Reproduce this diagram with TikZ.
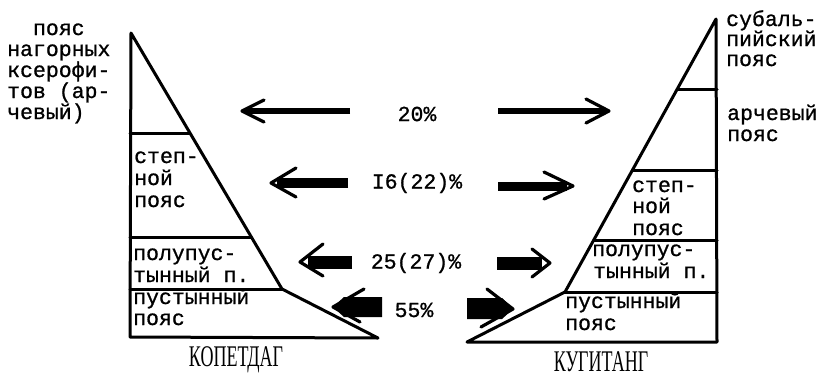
\documentclass[tikz,border=0pt]{standalone}
\usepackage{fontspec}
\usetikzlibrary{calc}
\newfontfamily\tw[FakeBold=0.9]{Liberation Mono}
\newfontfamily\ser{Liberation Serif}
\begin{document}
\begin{tikzpicture}[x=1pt,y=-1pt,
  outline/.style={line width=3pt, line join=round, line cap=round},
  barb/.style={line width=3.2pt, line join=round, line cap=round},
  lbl/.style={inner sep=0pt, anchor=base west, font=\tw\fontsize{21.5}{21}\selectfont},
  pct/.style={inner sep=0pt, anchor=center, font=\tw\fontsize{21.5}{21}\selectfont},
  title/.style={inner sep=0pt, anchor=center, font=\ser\fontsize{30}{30}\selectfont}]
\useasboundingbox (0,0) rectangle (825,378);
% ---- left figure (Kopetdag)
\coordinate (LA) at (131,33);
\coordinate (LK) at (282,289);
\coordinate (LB) at (378,338);
\coordinate (LO) at (130,337);
\draw[outline] (LA) -- (LK) -- (LB) -- (LO) -- cycle;
\draw[outline] (130,133) -- (190,133);
\draw[outline] (130,237) -- (251,237);
\draw[outline] (130,289) -- (LK);
% ---- right figure (Kugitang)
\coordinate (RA) at (716,19);
\coordinate (RK) at (565,292);
\coordinate (RB) at (467,342);
\coordinate (RO) at (717,342);
\draw[outline] (RA) -- (RK) -- (RB) -- (RO) -- cycle;
\draw[outline] (678,89) -- (717,89);
\draw[outline] (633,170) -- (717,170);
\draw[outline] (594,240) -- (717,240);
\draw[outline] (RK) -- (717,292);
% ---- left labels
\node[lbl] (l1) at (7,35) {\ \ пояс};
\node[lbl] (l2) at (7,56) {нагорных};
\node[lbl] (l3) at (7,77) {ксерофи-};
\node[lbl] (l4) at (7,98) {тов (ар-};
\node[lbl] (l5) at (7,119) {чевый)};
\node[lbl] (s1) at (134,163) {степ-};
\node[lbl] (s2) at (134,185) {ной};
\node[lbl] (s3) at (134,207) {пояс};
\node[lbl] (p1) at (133,260) {полупус-};
\node[lbl] (p2) at (133,282) {тынный п.};
\node[lbl] (d1) at (133,304) {пустынный};
\node[lbl] (d2) at (133,325) {пояс};
% ---- right labels
\node[lbl] (r1) at (726,26) {субаль-};
\node[lbl] (r2) at (726,46) {пийский};
\node[lbl] (r3) at (726,66) {пояс};
\node[lbl] (r4) at (727,120) {арчевый};
\node[lbl] (r5) at (727,141) {пояс};
\node[lbl] (rs1) at (632,192) {степ-};
\node[lbl] (rs2) at (632,213) {ной};
\node[lbl] (rs3) at (632,235) {пояс};
\node[lbl] (rp1) at (592,256) {полупус-};
\node[lbl] (rp2) at (593,278) {тынный п.};
\node[lbl] (rd1) at (565,308) {пустынный};
\node[lbl] (rd2) at (565,330) {пояс};
% ---- titles
\node[title] (kop) at (236,360) {\scalebox{0.6}[1]{КОПЕТДАГ}};
\node[title] (kug) at (601,362) {\scalebox{0.6}[1]{КУГИТАНГ}};
% ---- percentages
\node[pct] (q1) at (417,114) {20\%};
\node[pct] (q2) at (417,183) {I6(22)\%};
\node[pct] (q3) at (416,263) {25(27)\%};
\node[pct] (q4) at (414,310) {55\%};
% ---- arrows row 1
\coordinate (a1s) at (350,111); \coordinate (a1t) at (242,111);
\draw[line width=6pt] (a1s) -- ($(a1t)+(3,0)$);
\draw[barb] (264,100) -- (a1t) -- (264,122);
\coordinate (b1s) at (498,111); \coordinate (b1t) at (609,111);
\draw[line width=6pt] (b1s) -- ($(b1t)+(-3,0)$);
\draw[barb] (586,99) -- (b1t) -- (586,123);
% ---- arrows row 2
\coordinate (a2s) at (348,183); \coordinate (a2t) at (271,183);
\draw[line width=10pt] (a2s) -- ($(a2t)+(6,0)$);
\draw[barb] (296,168) -- (a2t) -- (296,197);
\coordinate (b2s) at (498,186); \coordinate (b2t) at (573,186);
\draw[line width=9pt] (b2s) -- ($(b2t)+(-6,0)$);
\draw[barb] (544,172) -- (b2t) -- (544,199);
% ---- arrows row 3
\coordinate (a3s) at (352,262); \coordinate (a3t) at (300,262);
\draw[line width=13pt] (a3s) -- ($(a3t)+(8,0)$);
\draw[barb] (323,244) -- (a3t) -- (323,276);
\coordinate (b3s) at (497,263); \coordinate (b3t) at (550,263);
\draw[line width=13pt] (b3s) -- ($(b3t)+(-8,0)$);
\draw[barb] (532,249) -- (b3t) -- (532,277);
% ---- arrows row 4
\coordinate (a4t) at (333,307);
\fill (382,297) -- (344,297) -- (a4t) -- (344,317) -- (382,317) -- cycle;
\draw[barb] (364,289) -- (a4t) -- (360,322);
\coordinate (b4t) at (513,309);
\fill (467,298) -- (502,298) -- (b4t) -- (502,319) -- (467,319) -- cycle;
\draw[barb] (487,289) -- (b4t) -- (481,327);
\end{tikzpicture}
\end{document}
